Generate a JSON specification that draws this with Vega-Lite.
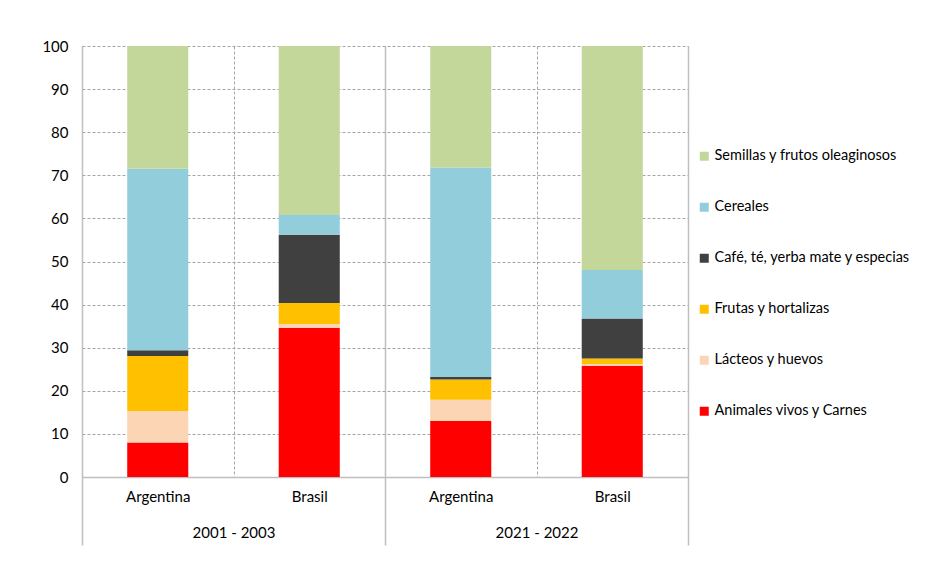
{
  "$schema": "https://vega.github.io/schema/vega-lite/v6.json",
  "width": 606,
  "height": 431,
  "autosize": {"type": "none"},
  "padding": {"left": 82, "top": 46, "right": 257, "bottom": 89},
  "background": "white",
  "config": {
    "font": "Lato",
    "view": {"stroke": null},
    "axis": {"labelColor": "black", "labelFont": "Lato", "labelFontSize": 15, "title": null}
  },
  "data": {
    "values": [
      {"periodo": "2001 - 2003", "barra": "2001 - 2003|Argentina", "categoria": "Animales vivos y Carnes", "orden": 1, "valor": 8.0},
      {"periodo": "2001 - 2003", "barra": "2001 - 2003|Argentina", "categoria": "Lácteos y huevos", "orden": 2, "valor": 7.3},
      {"periodo": "2001 - 2003", "barra": "2001 - 2003|Argentina", "categoria": "Frutas y hortalizas", "orden": 3, "valor": 12.8},
      {"periodo": "2001 - 2003", "barra": "2001 - 2003|Argentina", "categoria": "Café, té, yerba mate y especias", "orden": 4, "valor": 1.3},
      {"periodo": "2001 - 2003", "barra": "2001 - 2003|Argentina", "categoria": "Cereales", "orden": 5, "valor": 42.1},
      {"periodo": "2001 - 2003", "barra": "2001 - 2003|Argentina", "categoria": "Semillas y frutos oleaginosos", "orden": 6, "valor": 28.5},
      {"periodo": "2001 - 2003", "barra": "2001 - 2003|Brasil", "categoria": "Animales vivos y Carnes", "orden": 1, "valor": 34.6},
      {"periodo": "2001 - 2003", "barra": "2001 - 2003|Brasil", "categoria": "Lácteos y huevos", "orden": 2, "valor": 0.9},
      {"periodo": "2001 - 2003", "barra": "2001 - 2003|Brasil", "categoria": "Frutas y hortalizas", "orden": 3, "valor": 4.9},
      {"periodo": "2001 - 2003", "barra": "2001 - 2003|Brasil", "categoria": "Café, té, yerba mate y especias", "orden": 4, "valor": 15.8},
      {"periodo": "2001 - 2003", "barra": "2001 - 2003|Brasil", "categoria": "Cereales", "orden": 5, "valor": 4.6},
      {"periodo": "2001 - 2003", "barra": "2001 - 2003|Brasil", "categoria": "Semillas y frutos oleaginosos", "orden": 6, "valor": 39.2},
      {"periodo": "2021 - 2022", "barra": "2021 - 2022|Argentina", "categoria": "Animales vivos y Carnes", "orden": 1, "valor": 13.0},
      {"periodo": "2021 - 2022", "barra": "2021 - 2022|Argentina", "categoria": "Lácteos y huevos", "orden": 2, "valor": 4.9},
      {"periodo": "2021 - 2022", "barra": "2021 - 2022|Argentina", "categoria": "Frutas y hortalizas", "orden": 3, "valor": 4.7},
      {"periodo": "2021 - 2022", "barra": "2021 - 2022|Argentina", "categoria": "Café, té, yerba mate y especias", "orden": 4, "valor": 0.6},
      {"periodo": "2021 - 2022", "barra": "2021 - 2022|Argentina", "categoria": "Cereales", "orden": 5, "valor": 48.6},
      {"periodo": "2021 - 2022", "barra": "2021 - 2022|Argentina", "categoria": "Semillas y frutos oleaginosos", "orden": 6, "valor": 28.2},
      {"periodo": "2021 - 2022", "barra": "2021 - 2022|Brasil", "categoria": "Animales vivos y Carnes", "orden": 1, "valor": 25.8},
      {"periodo": "2021 - 2022", "barra": "2021 - 2022|Brasil", "categoria": "Lácteos y huevos", "orden": 2, "valor": 0.4},
      {"periodo": "2021 - 2022", "barra": "2021 - 2022|Brasil", "categoria": "Frutas y hortalizas", "orden": 3, "valor": 1.3},
      {"periodo": "2021 - 2022", "barra": "2021 - 2022|Brasil", "categoria": "Café, té, yerba mate y especias", "orden": 4, "valor": 9.3},
      {"periodo": "2021 - 2022", "barra": "2021 - 2022|Brasil", "categoria": "Cereales", "orden": 5, "valor": 11.2},
      {"periodo": "2021 - 2022", "barra": "2021 - 2022|Brasil", "categoria": "Semillas y frutos oleaginosos", "orden": 6, "valor": 52.0}
    ]
  },
  "layer": [
    {
      "mark": {"type": "bar", "strokeWidth": 0, "width": {"band": 0.403}},
      "encoding": {
        "x": {
          "field": "barra",
          "type": "nominal",
          "sort": null,
          "scale": {"paddingInner": 0, "paddingOuter": 0},
          "axis": {
            "orient": "bottom",
            "labelExpr": "split(datum.label, '|')[1]",
            "labelAngle": 0,
            "labelPadding": 12,
            "ticks": false,
            "domain": true,
            "domainColor": "#bfbfbf",
            "domainWidth": 1.5,
            "grid": true,
            "gridColor": "#a6a6a6",
            "gridDash": [3, 2],
            "gridWidth": 1,
            "tickBand": "extent"
          }
        },
        "y": {
          "field": "valor",
          "type": "quantitative",
          "stack": "zero",
          "scale": {"domain": [0, 100], "nice": false},
          "axis": {
            "values": [0, 10, 20, 30, 40, 50, 60, 70, 80, 90, 100],
            "ticks": false,
            "domain": false,
            "labelPadding": 14,
            "grid": true,
            "gridColor": "#a6a6a6",
            "gridDash": [3, 2],
            "gridWidth": 1
          }
        },
        "color": {
          "field": "categoria",
          "type": "nominal",
          "scale": {
            "domain": ["Semillas y frutos oleaginosos", "Cereales", "Café, té, yerba mate y especias", "Frutas y hortalizas", "Lácteos y huevos", "Animales vivos y Carnes"],
            "range": ["#C4D79B", "#92CDDC", "#404040", "#FFC000", "#FCD5B5", "#FF0000"]
          },
          "legend": {
            "title": null,
            "orient": "none",
            "legendX": 615,
            "legendY": 103,
            "symbolType": "square",
            "symbolSize": 81,
            "symbolStrokeWidth": 0,
            "labelFont": "Lato",
            "labelFontSize": 14.5,
            "labelColor": "black",
            "labelLimit": 300,
            "labelOffset": 3,
            "rowPadding": 36
          }
        },
        "order": {"field": "orden", "type": "quantitative", "sort": "ascending"}
      }
    },
    {
      "mark": {"type": "tick", "opacity": 0},
      "encoding": {
        "x": {
          "field": "periodo",
          "type": "nominal",
          "sort": null,
          "scale": {"paddingInner": 0, "paddingOuter": 0},
          "axis": {
            "orient": "bottom",
            "labelAngle": 0,
            "ticks": true,
            "tickBand": "extent",
            "tickSize": 68,
            "tickColor": "#bfbfbf",
            "tickWidth": 1.5,
            "labelPadding": -20,
            "domain": false,
            "grid": true,
            "gridColor": "#bfbfbf",
            "gridWidth": 1.5
          }
        }
      }
    }
  ],
  "resolve": {"scale": {"x": "independent"}, "axis": {"x": "independent"}}
}
